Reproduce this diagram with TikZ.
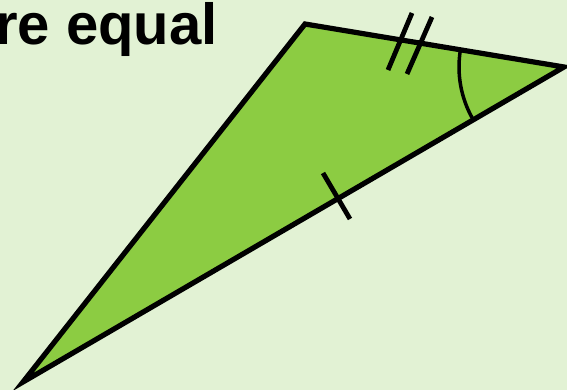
\documentclass[tikz,border=0pt]{standalone}
\usepackage{fontspec}
\setmainfont{Liberation Sans}
\definecolor{bg}{RGB}{226,242,212}
\definecolor{tri}{RGB}{140,204,66}
\begin{document}
\begin{tikzpicture}[x=1pt,y=-1pt,
  edge/.style={line width=5.2pt,line join=miter,black},
  tick/.style={line width=4.8pt,black}]
\fill[bg] (0,0) rectangle (567,390);
\useasboundingbox (0,0) rectangle (567,390);
\coordinate (A) at (305,24);
\coordinate (B) at (564,67);
\coordinate (C) at (23,382);
\fill[tri] (A) -- (B) -- (C) -- cycle;
\draw[edge] (A) -- (B) -- (C) -- cycle;
% double tick
\draw[tick] (412,13) -- (388,70);
\draw[tick] (432,17) -- (407,74);
% single tick
\draw[tick] (323,173) -- (350,219);
% angle arc at B
\draw[line width=3.5pt] (B) ++(189.4:105) arc[start angle=189.4,end angle=150.2,radius=105];
\node[anchor=base east,inner sep=0,font=\bfseries\fontsize{58}{60}\selectfont] (t) at (218,45) {re equal};
\end{tikzpicture}
\end{document}
